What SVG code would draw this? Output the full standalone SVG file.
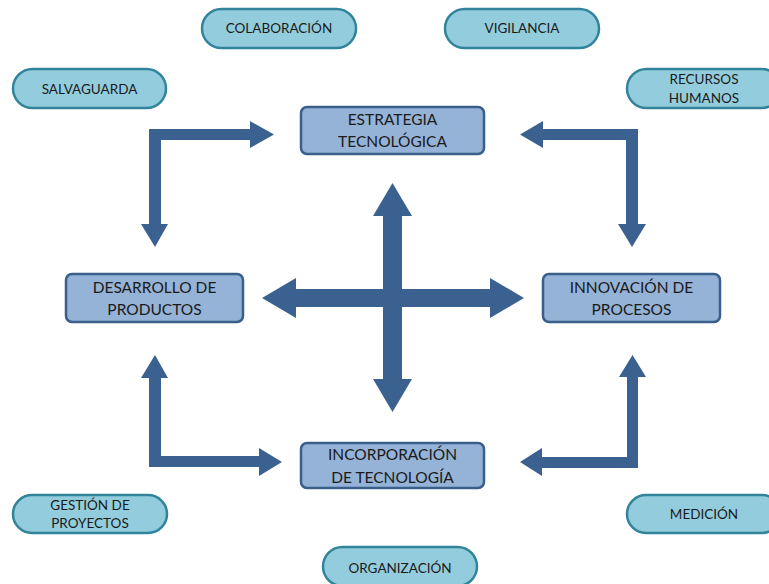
<svg xmlns="http://www.w3.org/2000/svg" width="769" height="584" viewBox="0 0 769 584">
<style>
.box{fill:#95B3D7;stroke:#3A5F8B;stroke-width:2.5}
.pill{fill:#93CDDD;stroke:#31849B;stroke-width:2.5}
.arrow{fill:#3A6190}
text{font-family:Lato,"Liberation Sans",sans-serif;fill:#1A1A1A;text-anchor:middle}
.bt{font-size:15.5px}
.pt{font-size:13.5px}
</style>
<rect width="769" height="584" fill="#FFFFFF"/>
<g id="connectors">
<polygon class="arrow" points="149,224 141,224 155,247 168,224 161,224 161,140 250,140 250,148 274,134.5 250,121 250,129 149,129"/>
<polygon class="arrow" points="638,224 646,224 632,247 618,224 626,224 626,140 543,140 543,148 520,134.5 543,121 543,129 638,129"/>
<polygon class="arrow" points="149,378 141,378 155,355 168,378 161,378 161,456 259,456 259,448 282,462 259,476 259,467 149,467"/>
<polygon class="arrow" points="638,377 646,377 632.5,355 619,377 627,377 627,457 542,457 542,448 520,462 542,476 542,468 638,468"/>
<polygon class="arrow" points="383,216 373,216 392.5,183 412,216 402,216 402,289 490,289 490,278 524,298 490,318 490,307 402,307 402,379 412,379 392.5,412 373,379 383,379 383,307 296,307 296,318 262,298 296,278 296,289 383,289"/>
</g>
<g id="estrategia">
<rect class="box" x="301" y="107" width="183" height="47" rx="6"/>
<text class="bt" x="392.5" y="124.5">ESTRATEGIA</text>
<text class="bt" x="392.5" y="147">TECNOLÓGICA</text>
</g>
<g id="desarrollo">
<rect class="box" x="66" y="274" width="177" height="48" rx="6"/>
<text class="bt" x="154.5" y="293">DESARROLLO DE</text>
<text class="bt" x="154.5" y="315">PRODUCTOS</text>
</g>
<g id="innovacion">
<rect class="box" x="543" y="274" width="177" height="48" rx="6"/>
<text class="bt" x="631.5" y="293">INNOVACIÓN DE</text>
<text class="bt" x="631.5" y="315">PROCESOS</text>
</g>
<g id="incorporacion">
<rect class="box" x="301" y="443" width="183" height="45" rx="6"/>
<text class="bt" x="392.5" y="460">INCORPORACIÓN</text>
<text class="bt" x="392.5" y="483">DE TECNOLOGÍA</text>
</g>
<g id="colaboracion">
<rect class="pill" x="202" y="9" width="154" height="39" rx="19.5"/>
<text class="pt" x="279" y="33">COLABORACIÓN</text>
</g>
<g id="vigilancia">
<rect class="pill" x="445" y="9" width="154" height="39" rx="19.5"/>
<text class="pt" x="522" y="33">VIGILANCIA</text>
</g>
<g id="salvaguarda">
<rect class="pill" x="13" y="69" width="153" height="39" rx="19.5"/>
<text class="pt" x="89.5" y="94">SALVAGUARDA</text>
</g>
<g id="recursos">
<rect class="pill" x="627" y="69" width="154" height="39" rx="19.5"/>
<text class="pt" x="704" y="84">RECURSOS</text>
<text class="pt" x="704" y="103">HUMANOS</text>
</g>
<g id="gestion">
<rect class="pill" x="13" y="495" width="154" height="38" rx="19"/>
<text class="pt" x="90" y="510">GESTIÓN DE</text>
<text class="pt" x="90" y="528">PROYECTOS</text>
</g>
<g id="medicion">
<rect class="pill" x="627" y="495" width="154" height="38" rx="19"/>
<text class="pt" x="704" y="519">MEDICIÓN</text>
</g>
<g id="organizacion">
<rect class="pill" x="323" y="547" width="154" height="39" rx="19.5"/>
<text class="pt" x="400" y="573">ORGANIZACIÓN</text>
</g>
</svg>
